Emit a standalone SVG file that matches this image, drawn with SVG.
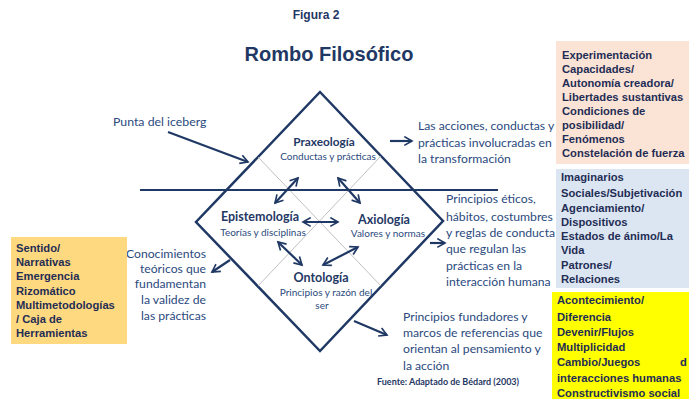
<svg xmlns="http://www.w3.org/2000/svg" width="689" height="399" viewBox="0 0 689 399">
<style>
.g{font-family:"Liberation Sans",Arial,sans-serif;font-weight:bold;fill:#1f3864}
.c{font-family:Lato,"Liberation Sans",sans-serif;fill:#2b4a7e}
.cb{font-family:Lato,"Liberation Sans",sans-serif;font-weight:bold;fill:#1f3864}
.bx{font-family:"Liberation Sans",Arial,sans-serif;font-weight:bold;font-size:11.2px;fill:#1f2d55}
.ln{stroke:#1f3864;fill:none}
.ar{stroke:#1f3864;stroke-width:2.2;fill:none}
.thin{stroke:#b0b0b0;stroke-width:0.8;fill:none}
</style>
<defs>
<marker id="ah" viewBox="0 0 10 10" refX="8" refY="5" markerWidth="5" markerHeight="5" orient="auto-start-reverse" markerUnits="strokeWidth">
<path d="M1,1 L8,5 L1,9" stroke="#1f3864" stroke-width="1.5" fill="none"/>
</marker>
</defs>
<rect width="689" height="399" fill="#ffffff"/>
<text class="g" x="316" y="19" font-size="12" text-anchor="middle">Figura 2</text>
<text class="g" x="329" y="61" font-size="20" text-anchor="middle">Rombo Filosófico</text>

<g id="diamond">
<polygon class="ln" stroke-width="2.5" points="320,92 443,221 320,351 196,222"/>
<line class="thin" x1="258" y1="157" x2="381" y2="286"/>
<line class="thin" x1="381" y1="156" x2="258" y2="286"/>
<line class="ln" stroke-width="2.2" x1="140" y1="190" x2="498" y2="190"/>
</g>

<g id="praxeologia">
<text class="cb" x="324" y="146" font-size="11.8" text-anchor="middle">Praxeología</text>
<text class="c" x="328" y="160" font-size="10" text-anchor="middle">Conductas y prácticas</text>
</g>
<g id="epistemologia">
<text class="cb" x="260" y="221" font-size="12.5" text-anchor="middle">Epistemología</text>
<text class="c" x="263" y="236" font-size="10" text-anchor="middle">Teorías y disciplinas</text>
</g>
<g id="axiologia">
<text class="cb" x="384" y="224" font-size="12.5" text-anchor="middle">Axiología</text>
<text class="c" x="388" y="237" font-size="10" text-anchor="middle">Valores y normas</text>
</g>
<g id="ontologia">
<text class="cb" x="321" y="282" font-size="12.5" text-anchor="middle">Ontología</text>
<text class="c" x="326" y="296" font-size="10" text-anchor="middle">Principios y razón del</text>
<text class="c" x="322" y="309" font-size="10" text-anchor="middle">ser</text>
</g>

<g id="punta">
<text class="c" x="113" y="126" font-size="12.3">Punta del iceberg</text>
</g>
<g id="acciones">
<text class="c" x="418" y="130" font-size="12.2">Las acciones, conductas y</text>
<text class="c" x="418" y="147" font-size="12.2">prácticas involucradas en</text>
<text class="c" x="418" y="163" font-size="12.2">la transformación</text>
</g>
<g id="eticos">
<text class="c" x="446" y="203" font-size="12.2">Principios éticos,</text>
<text class="c" x="446" y="221" font-size="12.2">hábitos, costumbres</text>
<text class="c" x="446" y="237" font-size="12.2">y reglas de conducta</text>
<text class="c" x="446" y="253" font-size="12.2">que regulan las</text>
<text class="c" x="446" y="270" font-size="12.2">prácticas en la</text>
<text class="c" x="446" y="286" font-size="12.2">interacción humana</text>
</g>
<g id="conocimientos">
<text class="c" x="206" y="258" font-size="12.2" text-anchor="end">Conocimientos</text>
<text class="c" x="206" y="273" font-size="12.2" text-anchor="end">teóricos que</text>
<text class="c" x="206" y="288" font-size="12.2" text-anchor="end">fundamentan</text>
<text class="c" x="206" y="304" font-size="12.2" text-anchor="end">la validez de</text>
<text class="c" x="206" y="320" font-size="12.2" text-anchor="end">las prácticas</text>
</g>
<g id="fundadores">
<text class="c" x="403" y="321" font-size="12.2">Principios fundadores y</text>
<text class="c" x="403" y="337" font-size="12.2">marcos de referencias que</text>
<text class="c" x="403" y="353" font-size="12.2">orientan al pensamiento y</text>
<text class="c" x="403" y="370" font-size="12.2">la acción</text>
<text class="cb" x="377" y="385" font-size="9">Fuente: Adaptado de Bédard (2003)</text>
</g>

<g id="box-peach">
<rect x="556" y="41" width="133" height="123" fill="#fbe4d5"/>
<text class="bx" x="562" y="59">Experimentación</text>
<text class="bx" x="562" y="73">Capacidades/</text>
<text class="bx" x="562" y="87">Autonomía creadora/</text>
<text class="bx" x="562" y="101">Libertades sustantivas</text>
<text class="bx" x="562" y="115">Condiciones de</text>
<text class="bx" x="562" y="129">posibilidad/</text>
<text class="bx" x="562" y="143">Fenómenos</text>
<text class="bx" x="562" y="157">Constelación de fuerza</text>
</g>
<g id="box-blue">
<rect x="556" y="169" width="133" height="119" fill="#dce6f2"/>
<text class="bx" x="561" y="181" font-size="10">Imaginarios</text>
<text class="bx" x="561" y="197">Sociales/Subjetivación</text>
<text class="bx" x="561" y="212">Agenciamiento/</text>
<text class="bx" x="561" y="226">Dispositivos</text>
<text class="bx" x="561" y="240">Estados de ánimo/La</text>
<text class="bx" x="561" y="254">Vida</text>
<text class="bx" x="561" y="269">Patrones/</text>
<text class="bx" x="561" y="283">Relaciones</text>
</g>
<g id="box-yellow">
<rect x="552" y="292" width="137" height="107" fill="#ffff00"/>
<text class="bx" x="557" y="304">Acontecimiento/</text>
<text class="bx" x="557" y="321">Diferencia</text>
<text class="bx" x="557" y="336">Devenir/Flujos</text>
<text class="bx" x="557" y="351">Multiplicidad</text>
<text class="bx" x="557" y="366">Cambio/Juegos<tspan x="680">d</tspan></text>
<text class="bx" x="557" y="382">interacciones humanas</text>
<text class="bx" x="557" y="397">Constructivismo social</text>
</g>
<g id="box-orange">
<rect x="11" y="237" width="116" height="107" fill="#ffd97f"/>
<text class="bx" x="16" y="252">Sentido/</text>
<text class="bx" x="16" y="266">Narrativas</text>
<text class="bx" x="16" y="280">Emergencia</text>
<text class="bx" x="16" y="295">Rizomático</text>
<text class="bx" x="16" y="309">Multimetodologías</text>
<text class="bx" x="16" y="323">/ Caja de</text>
<text class="bx" x="16" y="337">Herramientas</text>
</g>

<g id="connectors">
<line class="ar" x1="168" y1="132" x2="248" y2="162" marker-end="url(#ah)"/>
<line class="ar" x1="390" y1="141" x2="412" y2="141" marker-end="url(#ah)"/>
<line class="ar" x1="430" y1="243" x2="445" y2="243" marker-end="url(#ah)"/>
<line class="ar" x1="230" y1="260" x2="212" y2="272" marker-end="url(#ah)"/>
<line class="ar" x1="354" y1="321" x2="387" y2="335" marker-end="url(#ah)"/>
<line class="ar" x1="275" y1="203" x2="298" y2="178" marker-start="url(#ah)" marker-end="url(#ah)"/>
<line class="ar" x1="338" y1="178" x2="360" y2="203" marker-start="url(#ah)" marker-end="url(#ah)"/>
<line class="ar" x1="303" y1="222" x2="338" y2="222" marker-start="url(#ah)" marker-end="url(#ah)"/>
<line class="ar" x1="278" y1="242" x2="302" y2="265" marker-start="url(#ah)" marker-end="url(#ah)"/>
<line class="ar" x1="323" y1="265" x2="358" y2="247" marker-start="url(#ah)" marker-end="url(#ah)"/>
</g>
</svg>
